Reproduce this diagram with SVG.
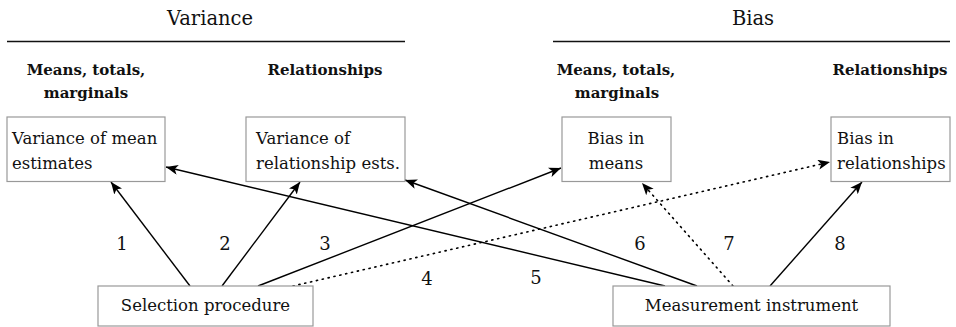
<svg xmlns="http://www.w3.org/2000/svg" width="956" height="327" viewBox="0 0 956 327">
<defs>
<marker id="ah" viewBox="0 0 12 10" refX="12" refY="5" markerWidth="12" markerHeight="10" markerUnits="userSpaceOnUse" orient="auto">
<path d="M0,0 L12,5 L0,10 L3,5 Z" fill="#000"/>
</marker>
<style>
text{fill:#111;font-family:"DejaVu Serif","Liberation Serif",serif}
.title{font-size:19.5px;text-anchor:middle}
.hdr{font-size:15px;font-weight:bold;text-anchor:middle}
.bt{font-size:16.5px}
.num{font-size:18px;text-anchor:middle}
.box{fill:#fff;stroke:#999;stroke-width:1.2}
.rule{stroke:#111;stroke-width:1.6}
.c{stroke:#000;stroke-width:1.4;fill:none;marker-end:url(#ah)}
.d{stroke:#000;stroke-width:1.6;fill:none;stroke-dasharray:1.2 4.8;stroke-linecap:round;marker-end:url(#ah)}
</style>
</defs>
<g id="headings">
<text class="title" x="210" y="25">Variance</text>
<line class="rule" x1="7" y1="41.5" x2="405" y2="41.5"/>
<text class="title" x="753" y="25">Bias</text>
<line class="rule" x1="553" y1="41.5" x2="950" y2="41.5"/>
<text class="hdr" x="86" y="75">Means, totals,</text>
<text class="hdr" x="86" y="98">marginals</text>
<text class="hdr" x="325" y="75">Relationships</text>
<text class="hdr" x="616" y="75">Means, totals,</text>
<text class="hdr" x="617" y="98">marginals</text>
<text class="hdr" x="890" y="75">Relationships</text>
</g>

<g id="connectors">
<line class="c" x1="190" y1="286" x2="111" y2="182"/>
<line class="c" x1="222" y1="286" x2="300" y2="182"/>
<line class="c" x1="258" y1="286" x2="561" y2="168"/>
<line class="d" x1="293" y1="286" x2="830" y2="162"/>
<line class="c" x1="665" y1="286" x2="166" y2="167"/>
<line class="c" x1="697" y1="286" x2="405" y2="180"/>
<line class="d" x1="733" y1="286" x2="642" y2="183"/>
<line class="c" x1="770" y1="286" x2="862" y2="182"/>
<text class="num" x="122" y="250">1</text>
<text class="num" x="225" y="250">2</text>
<text class="num" x="325" y="250">3</text>
<text class="num" x="427" y="285">4</text>
<text class="num" x="536" y="284">5</text>
<text class="num" x="640" y="250">6</text>
<text class="num" x="729" y="250">7</text>
<text class="num" x="840" y="250">8</text>
</g>

<g id="var-mean">
<rect class="box" x="7" y="117" width="158" height="64.5"/>
<text class="bt" x="12" y="144">Variance of mean</text>
<text class="bt" x="12" y="169">estimates</text>
</g>

<g id="var-rel">
<rect class="box" x="246" y="117" width="159" height="64.5"/>
<text class="bt" x="256" y="144">Variance of</text>
<text class="bt" x="256" y="169">relationship ests.</text>
</g>

<g id="bias-means">
<rect class="box" x="562" y="117" width="109" height="64.5"/>
<text class="bt" x="616" y="144" text-anchor="middle">Bias in</text>
<text class="bt" x="616" y="169" text-anchor="middle">means</text>
</g>

<g id="bias-rel">
<rect class="box" x="831" y="117" width="119" height="64.5"/>
<text class="bt" x="837" y="144">Bias in</text>
<text class="bt" x="837" y="169">relationships</text>
</g>

<g id="selection">
<rect class="box" x="98" y="286" width="215" height="40"/>
<text class="bt" x="205.5" y="311" text-anchor="middle">Selection procedure</text>
</g>

<g id="measurement">
<rect class="box" x="613" y="286" width="277" height="40"/>
<text class="bt" x="751.5" y="311" text-anchor="middle">Measurement instrument</text>
</g>
</svg>
